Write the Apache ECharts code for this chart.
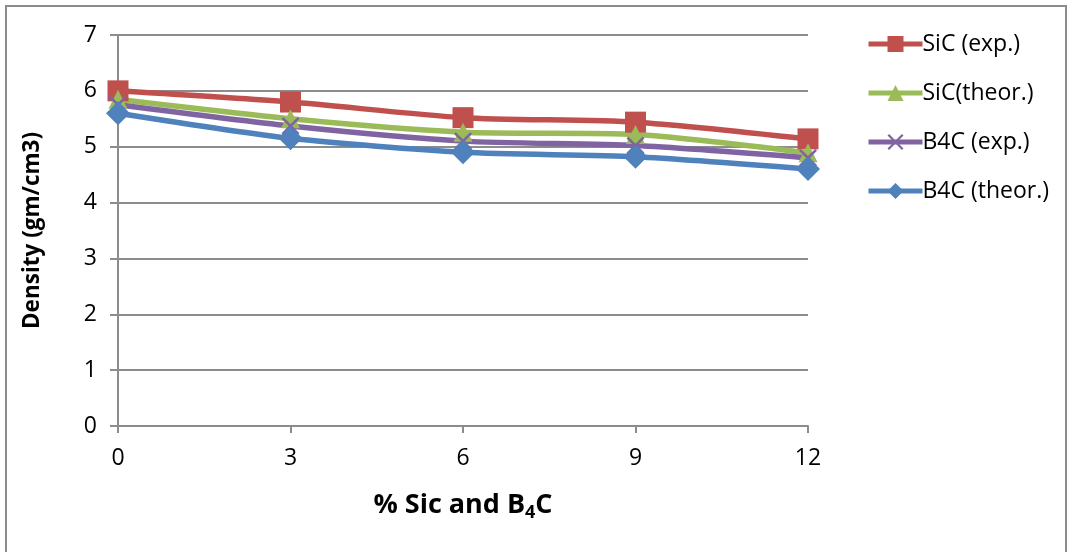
<!DOCTYPE html>
<html>
<head>
<meta charset="utf-8">
<script src="https://cdn.jsdelivr.net/npm/echarts@6/dist/echarts.min.js"></script>
<style>
  html, body { margin: 0; padding: 0; background: #fff; }
  #main { width: 1069px; height: 552px; }
</style>
</head>
<body>
<div id="main"></div>
<script>
  // x categories (% reinforcement)
  var categories = ['0', '3', '6', '9', '12']
  // density values (gm/cm3)
  var sicExp = [6.0, 5.8, 5.52, 5.44, 5.14]
  var sicTheor = [5.85, 5.5, 5.26, 5.22, 4.89]
  var b4cExp = [5.75, 5.37, 5.1, 5.02, 4.8]
  var b4cTheor = [5.6, 5.15, 4.9, 4.82, 4.6]
  var yTicks = [0, 1, 2, 3, 4, 5, 6, 7]

  var crossPath = 'path://M0,1 L1,0 L5,4 L9,0 L10,1 L6,5 L10,9 L9,10 L5,6 L1,10 L0,9 L4,5 Z'
  var font = '"Open Sans", "Liberation Sans", sans-serif'

  var myChart = echarts.init(document.getElementById('main'))

  function lineSeries(name, data, color, symbol, size) {
    return {
      name: name,
      type: 'line',
      data: data,
      smooth: 0.25,
      symbol: symbol,
      symbolSize: size,
      showAllSymbol: true,
      lineStyle: { color: color, width: 5.5 },
      itemStyle: { color: color },
      emphasis: { disabled: true }
    }
  }

  var option = {
    animation: false,
    backgroundColor: '#fff',
    graphic: [
      {
        type: 'rect',
        shape: { x: 6, y: 6, width: 1060, height: 560 },
        style: { fill: 'none', stroke: '#8c8c8c', lineWidth: 2 },
        silent: true
      }
    ],
    grid: { left: 118, right: 261, top: 35, bottom: 126 },
    legend: {
      orient: 'vertical',
      left: 866,
      top: 32,
      padding: 0,
      itemWidth: 54,
      itemHeight: 20,
      itemGap: 25,
      lineStyle: { width: 5 },
      textStyle: { color: '#000', fontSize: 23, lineHeight: 24, fontFamily: font, padding: [0, 0, 0, -5] },
      data: ['SiC (exp.)', 'SiC(theor.)', 'B4C (exp.)', 'B4C (theor.)']
    },
    xAxis: {
      type: 'category',
      data: categories,
      boundaryGap: false,
      axisLine: { lineStyle: { color: '#8c8c8c', width: 2 } },
      axisTick: { show: true, length: 7, alignWithLabel: true, lineStyle: { color: '#8c8c8c', width: 2 } },
      axisLabel: { color: '#000', fontSize: 23, fontFamily: font, margin: 21 },
      name: '{a|% Sic and B}{s|4}{a|C}',
      nameLocation: 'middle',
      nameGap: 62,
      nameTextStyle: {
        rich: {
          a: { fontSize: 27, fontWeight: 'bold', color: '#000', fontFamily: font },
          s: { fontSize: 18, fontWeight: 'bold', color: '#000', fontFamily: font, padding: [16, 0, 0, 0] }
        }
      }
    },
    yAxis: {
      type: 'value',
      min: yTicks[0],
      max: yTicks[yTicks.length - 1],
      interval: 1,
      axisLine: { show: true, lineStyle: { color: '#8c8c8c', width: 2 } },
      axisTick: { show: true, length: 8, lineStyle: { color: '#8c8c8c', width: 2 } },
      splitLine: { show: true, lineStyle: { color: '#8c8c8c', width: 2 } },
      axisLabel: { color: '#000', fontSize: 23, fontFamily: font, margin: 21 },
      name: 'Density (gm/cm3)',
      nameLocation: 'middle',
      nameGap: 74,
      nameTextStyle: { fontSize: 22.5, fontWeight: 'bold', color: '#000', fontFamily: font }
    },
    series: [
      lineSeries('SiC (exp.)', sicExp, '#C0504D', 'rect', 21),
      lineSeries('SiC(theor.)', sicTheor, '#9BBB59', 'triangle', 19),
      lineSeries('B4C (exp.)', b4cExp, '#8064A2', crossPath, 18),
      lineSeries('B4C (theor.)', b4cTheor, '#4F81BD', 'diamond', 24)
    ]
  }
  myChart.setOption(option)
</script>
</body>
</html>
